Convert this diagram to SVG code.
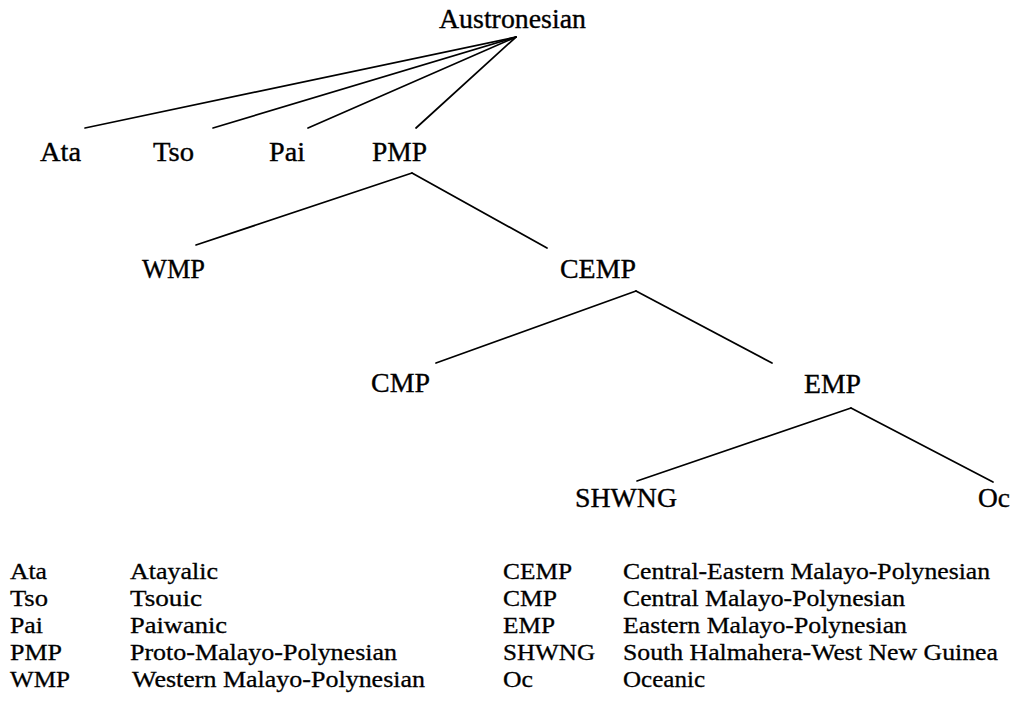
<svg xmlns="http://www.w3.org/2000/svg" width="1011" height="713" viewBox="0 0 1011 713">
<style>
.bg{fill:#ffffff}
.n{font-family:"Liberation Serif","Times New Roman",serif;font-size:27px;fill:#000;stroke:#000;stroke-width:0.35}
.l{font-family:"Liberation Serif","Times New Roman",serif;font-size:24px;fill:#000;stroke:#000;stroke-width:0.3}
.c line{stroke:#000;stroke-width:1.7;stroke-linecap:round}
</style>
<rect class="bg" x="0" y="0" width="1011" height="713"/>
<g id="connectors" class="c">
<line x1="516" y1="37" x2="85" y2="128"/>
<line x1="516" y1="37" x2="213" y2="128"/>
<line x1="516" y1="37" x2="308" y2="128"/>
<line x1="516" y1="37" x2="416" y2="128"/>
<line x1="412" y1="173" x2="196" y2="245"/>
<line x1="412" y1="173" x2="547" y2="248"/>
<line x1="636" y1="291" x2="436" y2="363"/>
<line x1="636" y1="291" x2="772" y2="363"/>
<line x1="851" y1="408" x2="637" y2="481"/>
<line x1="851" y1="408" x2="993" y2="482"/>
</g>
<g id="node-austronesian"><text class="n" x="439" y="28" textLength="147" lengthAdjust="spacingAndGlyphs">Austronesian</text></g>
<g id="node-ata"><text class="n" x="40" y="161" textLength="41" lengthAdjust="spacingAndGlyphs">Ata</text></g>
<g id="node-tso"><text class="n" x="153" y="161" textLength="41" lengthAdjust="spacingAndGlyphs">Tso</text></g>
<g id="node-pai"><text class="n" x="269" y="161" textLength="36" lengthAdjust="spacingAndGlyphs">Pai</text></g>
<g id="node-pmp"><text class="n" x="372" y="161" textLength="55" lengthAdjust="spacingAndGlyphs">PMP</text></g>
<g id="node-wmp"><text class="n" x="142" y="278" textLength="63" lengthAdjust="spacingAndGlyphs">WMP</text></g>
<g id="node-cemp"><text class="n" x="560" y="278" textLength="76" lengthAdjust="spacingAndGlyphs">CEMP</text></g>
<g id="node-cmp"><text class="n" x="371" y="392" textLength="59" lengthAdjust="spacingAndGlyphs">CMP</text></g>
<g id="node-emp"><text class="n" x="804" y="393" textLength="57" lengthAdjust="spacingAndGlyphs">EMP</text></g>
<g id="node-shwng"><text class="n" x="575" y="507" textLength="102" lengthAdjust="spacingAndGlyphs">SHWNG</text></g>
<g id="node-oc"><text class="n" x="978" y="507" textLength="32" lengthAdjust="spacingAndGlyphs">Oc</text></g>
<g id="legend">
<text class="l" x="10" y="579" textLength="37" lengthAdjust="spacingAndGlyphs">Ata</text>
<text class="l" x="130" y="579" textLength="88" lengthAdjust="spacingAndGlyphs">Atayalic</text>
<text class="l" x="10" y="606" textLength="38" lengthAdjust="spacingAndGlyphs">Tso</text>
<text class="l" x="130" y="606" textLength="72" lengthAdjust="spacingAndGlyphs">Tsouic</text>
<text class="l" x="10" y="633" textLength="33" lengthAdjust="spacingAndGlyphs">Pai</text>
<text class="l" x="130" y="633" textLength="97" lengthAdjust="spacingAndGlyphs">Paiwanic</text>
<text class="l" x="10" y="660" textLength="52" lengthAdjust="spacingAndGlyphs">PMP</text>
<text class="l" x="130" y="660" textLength="267" lengthAdjust="spacingAndGlyphs">Proto-Malayo-Polynesian</text>
<text class="l" x="10" y="687" textLength="60" lengthAdjust="spacingAndGlyphs">WMP</text>
<text class="l" x="132" y="687" textLength="293" lengthAdjust="spacingAndGlyphs">Western Malayo-Polynesian</text>
<text class="l" x="503" y="579" textLength="69" lengthAdjust="spacingAndGlyphs">CEMP</text>
<text class="l" x="623" y="579" textLength="367" lengthAdjust="spacingAndGlyphs">Central-Eastern Malayo-Polynesian</text>
<text class="l" x="503" y="606" textLength="54" lengthAdjust="spacingAndGlyphs">CMP</text>
<text class="l" x="623" y="606" textLength="282" lengthAdjust="spacingAndGlyphs">Central Malayo-Polynesian</text>
<text class="l" x="503" y="633" textLength="52" lengthAdjust="spacingAndGlyphs">EMP</text>
<text class="l" x="623" y="633" textLength="284" lengthAdjust="spacingAndGlyphs">Eastern Malayo-Polynesian</text>
<text class="l" x="503" y="660" textLength="92" lengthAdjust="spacingAndGlyphs">SHWNG</text>
<text class="l" x="623" y="660" textLength="375" lengthAdjust="spacingAndGlyphs">South Halmahera-West New Guinea</text>
<text class="l" x="503" y="687" textLength="30" lengthAdjust="spacingAndGlyphs">Oc</text>
<text class="l" x="623" y="687" textLength="82" lengthAdjust="spacingAndGlyphs">Oceanic</text>
</g>
</svg>
